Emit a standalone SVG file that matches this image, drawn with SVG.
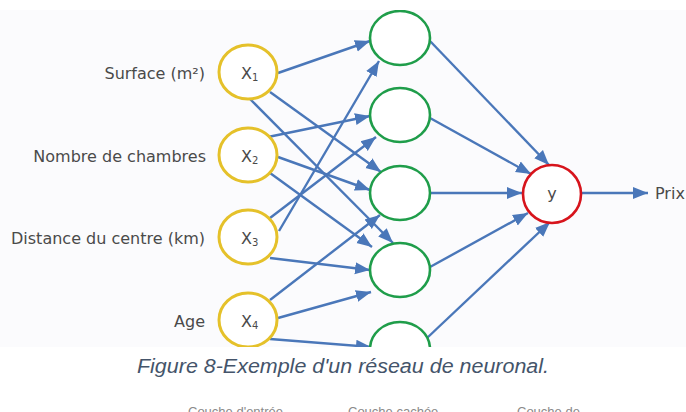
<svg xmlns="http://www.w3.org/2000/svg" width="686" height="412" viewBox="0 0 686 412">
  <style>
    .label { font-family: "DejaVu Sans", "Liberation Sans", sans-serif; font-size: 16px; fill: #4a4a4a; }
    .inp { fill: #ffffff; stroke: #E5C12A; stroke-width: 3; }
    .hid { fill: #ffffff; stroke: #1F9D4A; stroke-width: 2.6; }
    .out { fill: #ffffff; stroke: #D7141C; stroke-width: 2.6; }
    .edge { stroke: #4A77B9; stroke-width: 2.4; fill: none; marker-end: url(#arrow); }
    .caption { font-family: "Liberation Sans", Arial, sans-serif; font-style: italic; font-size: 20px; fill: #44546A; }
    .layer { font-family: "Liberation Sans", Arial, sans-serif; font-size: 13px; fill: #8a8a8a; }
  </style>
  <defs>
    <marker id="arrow" markerUnits="userSpaceOnUse" markerWidth="16" markerHeight="14" viewBox="0 0 16 14" refX="15" refY="7" orient="auto">
      <path d="M0,1 L15,7 L0,13 Z" fill="#4A77B9"/>
    </marker>
    <clipPath id="panel">
      <rect x="0" y="10" width="686" height="337"/>
    </clipPath>
  </defs>

  <rect x="0" y="0" width="686" height="412" fill="#ffffff"/>

  <g clip-path="url(#panel)">
    <rect x="0" y="10" width="686" height="337" fill="#fbfbfd"/>

    <!-- connectors -->
    <g id="connectors">
      <line class="edge" x1="278" y1="73" x2="370" y2="41"/>
      <line class="edge" x1="270" y1="92" x2="381" y2="172"/>
      <line class="edge" x1="250" y1="99" x2="393" y2="243"/>
      <line class="edge" x1="268" y1="137" x2="370" y2="116"/>
      <line class="edge" x1="278" y1="157" x2="370" y2="190"/>
      <line class="edge" x1="270" y1="173" x2="372" y2="247"/>
      <line class="edge" x1="279" y1="231" x2="379" y2="61"/>
      <line class="edge" x1="270" y1="218" x2="376" y2="137"/>
      <line class="edge" x1="270" y1="258" x2="370" y2="270"/>
      <line class="edge" x1="270" y1="300" x2="380" y2="215"/>
      <line class="edge" x1="278" y1="318" x2="371" y2="292"/>
      <line class="edge" x1="270" y1="339" x2="371" y2="347"/>
      <line class="edge" x1="430" y1="41" x2="549" y2="165"/>
      <line class="edge" x1="430" y1="118" x2="531" y2="174"/>
      <line class="edge" x1="430" y1="193" x2="522" y2="193"/>
      <line class="edge" x1="430" y1="267" x2="528" y2="213"/>
      <line class="edge" x1="427" y1="338" x2="550" y2="222"/>
      <line class="edge" x1="582" y1="193" x2="648" y2="193"/>
    </g>

    <!-- input layer -->
    <g id="x1">
      <text class="label" x="205" y="79" text-anchor="end">Surface (m²)</text>
      <ellipse class="inp" cx="248" cy="72" rx="29" ry="27"/>
      <text class="label" x="241" y="79">X<tspan font-size="10" dy="2">1</tspan></text>
    </g>
    <g id="x2">
      <text class="label" x="206" y="162" text-anchor="end">Nombre de chambres</text>
      <ellipse class="inp" cx="248" cy="155" rx="29" ry="27"/>
      <text class="label" x="241" y="162">X<tspan font-size="10" dy="2">2</tspan></text>
    </g>
    <g id="x3">
      <text class="label" x="205" y="244" text-anchor="end">Distance du centre (km)</text>
      <ellipse class="inp" cx="248" cy="237" rx="29" ry="27"/>
      <text class="label" x="241" y="244">X<tspan font-size="10" dy="2">3</tspan></text>
    </g>
    <g id="x4">
      <text class="label" x="205" y="327" text-anchor="end">Age</text>
      <ellipse class="inp" cx="248" cy="320" rx="29" ry="27"/>
      <text class="label" x="241" y="327">X<tspan font-size="10" dy="2">4</tspan></text>
    </g>

    <!-- hidden layer -->
    <g id="h1"><ellipse class="hid" cx="400" cy="38" rx="30" ry="27"/></g>
    <g id="h2"><ellipse class="hid" cx="400" cy="115" rx="30" ry="27"/></g>
    <g id="h3"><ellipse class="hid" cx="400" cy="193" rx="30" ry="27"/></g>
    <g id="h4"><ellipse class="hid" cx="400" cy="270" rx="30" ry="27"/></g>
    <g id="h5"><ellipse class="hid" cx="400" cy="349" rx="30" ry="27"/></g>

    <!-- output -->
    <g id="y">
      <circle class="out" cx="552" cy="194" r="29"/>
      <text class="label" x="552" y="199" text-anchor="middle">y</text>
    </g>
    <g id="prix">
      <text class="label" x="655" y="199">Prix</text>
    </g>
  </g>

  <text class="caption" x="137" y="373" textLength="412" lengthAdjust="spacingAndGlyphs">Figure 8-Exemple d'un réseau de neuronal.</text>

  <!-- layer titles, cut by the bottom edge -->
  <text class="layer" x="188" y="416">Couche d'entrée</text>
  <text class="layer" x="348" y="416">Couche cachée</text>
  <text class="layer" x="517" y="416">Couche de</text>
</svg>
